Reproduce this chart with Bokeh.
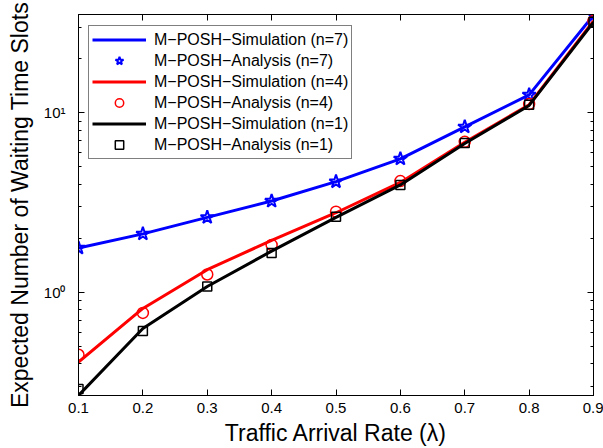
from bokeh.plotting import figure
from bokeh.models import (Range1d, FixedTicker, LogAxis, LinearAxis, Legend, LegendItem)
from bokeh.embed import file_html
from bokeh.resources import INLINE

# ---- data ----
rates = [0.1, 0.2, 0.3, 0.4, 0.5, 0.6, 0.7, 0.8, 0.9]
sim_n7 = [1.77, 2.12, 2.62, 3.23, 4.14, 5.55, 8.36, 12.6, 35.0]
ana_n7 = [1.77, 2.12, 2.62, 3.23, 4.14, 5.55, 8.36, 12.6, 35.0]
sim_n4 = [0.41, 0.815, 1.34, 1.95, 2.78, 4.10, 6.85, 11.1, 32.5]
ana_n4 = [0.45, 0.77, 1.26, 1.84, 2.82, 4.17, 6.90, 11.2, 32.5]
sim_n1 = [0.267, 0.63, 1.08, 1.70, 2.62, 3.97, 6.75, 11.0, 32.0]
ana_n1 = [0.29, 0.61, 1.08, 1.66, 2.64, 3.97, 6.80, 11.1, 32.2]

x_ticks = [0.1, 0.2, 0.3, 0.4, 0.5, 0.6, 0.7, 0.8, 0.9]
y_major = [1, 10]
y_minor = [0.3, 0.4, 0.5, 0.6, 0.7, 0.8, 0.9, 2, 3, 4, 5, 6, 7, 8, 9, 20, 30]
y_labels = {1: "10\u2070", 10: "10\u00b9"}

FONT = "Liberation Sans"

p = figure(width=603, height=448, output_backend="svg", toolbar_location=None,
           y_axis_type="log",
           x_range=Range1d(0.1, 0.9), y_range=Range1d(0.267, 35.3),
           min_border_left=78, min_border_right=10, min_border_top=14,
           min_border_bottom=52)
p.background_fill_color = "white"
p.border_fill_color = "white"
p.outline_line_color = "black"
p.outline_line_width = 1
p.grid.visible = False


def tick_style(ax):
    ax.axis_line_color = "black"
    ax.major_tick_line_color = "black"
    ax.minor_tick_line_color = "black"
    ax.major_tick_in = 6
    ax.major_tick_out = 0
    ax.minor_tick_in = 3
    ax.minor_tick_out = 0


def label_style(ax):
    ax.major_label_text_font = FONT
    ax.major_label_text_font_size = "15px"
    ax.major_label_text_color = "black"
    ax.axis_label_text_font = FONT
    ax.axis_label_text_font_size = "23px"
    ax.axis_label_text_font_style = "normal"
    ax.axis_label_text_color = "black"


xa = p.xaxis[0]
xa.ticker = FixedTicker(ticks=x_ticks)
tick_style(xa)
label_style(xa)
xa.minor_tick_line_color = None
xa.major_label_standoff = 7
xa.axis_label = "Traffic Arrival Rate (\u03bb)"
xa.axis_label_standoff = 4

ya = p.yaxis[0]
ya.ticker = FixedTicker(ticks=y_major, minor_ticks=y_minor)
tick_style(ya)
label_style(ya)
ya.major_label_overrides = y_labels
ya.major_label_standoff = 13
ya.axis_label = "Expected Number of Waiting Time Slots"
ya.axis_label_standoff = 8

# mirrored tick marks (no labels): use minor-tick slots only
top = LinearAxis(ticker=FixedTicker(ticks=[], minor_ticks=x_ticks))
tick_style(top)
top.minor_tick_in = 6
p.add_layout(top, "above")

right_major = LogAxis(ticker=FixedTicker(ticks=[], minor_ticks=y_major))
tick_style(right_major)
right_major.minor_tick_in = 6
p.add_layout(right_major, "right")

right_minor = LogAxis(ticker=FixedTicker(ticks=[], minor_ticks=y_minor))
tick_style(right_minor)
p.add_layout(right_minor, "right")

l7 = p.line(rates, sim_n7, line_color="#0000ff", line_width=3)
s7 = p.scatter(rates, ana_n7, marker="star", size=14, line_color="#0000ff",
               fill_color=None, line_width=2)
l4 = p.line(rates, sim_n4, line_color="#ff0000", line_width=3)
s4 = p.scatter(rates, ana_n4, marker="circle", size=11, line_color="#ff0000",
               fill_color=None, line_width=1.5)
l1 = p.line(rates, sim_n1, line_color="black", line_width=3)
s1 = p.scatter(rates, ana_n1, marker="square", size=9, line_color="black",
               fill_color=None, line_width=1.5)

legend = Legend(items=[
    LegendItem(label="M\u2212POSH\u2212Simulation (n=7)", renderers=[l7]),
    LegendItem(label="M\u2212POSH\u2212Analysis (n=7)", renderers=[s7]),
    LegendItem(label="M\u2212POSH\u2212Simulation (n=4)", renderers=[l4]),
    LegendItem(label="M\u2212POSH\u2212Analysis (n=4)", renderers=[s4]),
    LegendItem(label="M\u2212POSH\u2212Simulation (n=1)", renderers=[l1]),
    LegendItem(label="M\u2212POSH\u2212Analysis (n=1)", renderers=[s1]),
], location=(10, 236))
legend.label_text_font = FONT
legend.label_text_font_size = "16px"
legend.label_text_color = "black"
legend.border_line_color = "black"
legend.border_line_width = 1
legend.background_fill_color = "white"
legend.background_fill_alpha = 1
legend.padding = 3
legend.margin = 0
legend.spacing = 0
legend.glyph_width = 54
legend.glyph_height = 21
legend.label_height = 21
legend.label_standoff = 8
p.add_layout(legend, "center")

open("out.html", "w").write(file_html(p, INLINE))
